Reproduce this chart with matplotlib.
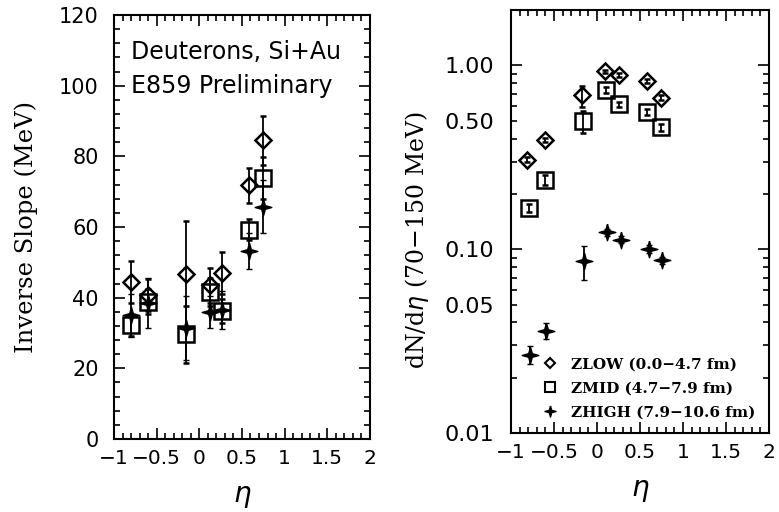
import numpy as np
import matplotlib
matplotlib.use('Agg')
import matplotlib.pyplot as plt
from matplotlib.lines import Line2D
from matplotlib.ticker import MultipleLocator, FixedLocator, FuncFormatter

# Left panel: inverse slope vs eta
eta = [-0.80, -0.60, -0.15, 0.13, 0.27, 0.58, 0.75]
slope_low = [44.5, 40.8, 46.8, 43.5, 47.0, 71.8, 84.5]
slope_low_err = [6.0, 4.5, 15.0, 5.0, 6.0, 5.0, 7.0]
slope_mid = [32.2, 38.9, 29.6, 41.6, 36.2, 59.2, 73.8]
slope_mid_err = [3.0, 3.5, 8.0, 4.0, 3.5, 3.0, 6.0]
slope_high = [35.0, 38.5, 31.5, 36.0, 36.5, 53.2, 65.8]
slope_high_err = [6.0, 7.0, 9.0, 4.5, 5.5, 5.0, 7.5]

# Right panel: dN/deta (70-150 MeV)
eta_low = [-0.81, -0.61, -0.17, 0.09, 0.26, 0.58, 0.74]
eta_mid = [-0.79, -0.61, -0.16, 0.11, 0.26, 0.58, 0.74]
eta_high = [-0.78, -0.59, -0.15, 0.12, 0.28, 0.60, 0.76]
dn_low = [0.307, 0.392, 0.686, 0.93, 0.885, 0.821, 0.667]
dn_low_err = [0.01, 0.01, 0.09, 0.02, 0.02, 0.02, 0.02]
dn_mid = [0.168, 0.239, 0.497, 0.734, 0.613, 0.557, 0.461]
dn_mid_err = [0.008, 0.015, 0.07, 0.03, 0.02, 0.02, 0.02]
dn_high = [0.0266, 0.036, 0.0858, 0.1235, 0.1127, 0.1003, 0.0869]
dn_high_err = [0.003, 0.0037, 0.018, 0.006, 0.005, 0.005, 0.004]

labels = ['ZLOW (0.0\u22124.7 fm)', 'ZMID (4.7\u22127.9 fm)', 'ZHIGH (7.9\u221210.6 fm)']

plt.rcParams['font.family'] = 'DejaVu Sans'
plt.rcParams['axes.linewidth'] = 1.5

# filled four pointed star like the PAW cross
star = [(0, 1), (0.22, 0.22), (1, 0), (0.22, -0.22), (0, -1), (-0.22, -0.22), (-1, 0), (-0.22, 0.22), (0, 1)]

fig = plt.figure(figsize=(7.79, 5.12), dpi=100)
ax1 = fig.add_axes([0.1463, 0.1426, 0.3286, 0.828])
ax2 = fig.add_axes([0.656, 0.1543, 0.3312, 0.826])

eb = dict(color='black', capsize=2, elinewidth=1.3, capthick=1.3, linestyle='none')
st_low = dict(marker='D', ms=8.5, mfc='none', mec='black', mew=1.8)
st_mid = dict(marker='s', ms=11, mfc='none', mec='black', mew=1.8)
st_high = dict(marker=star, ms=12, mfc='black', mec='black', mew=1)

ax1.errorbar(eta, slope_low, yerr=slope_low_err, **st_low, **eb)
ax1.errorbar(eta, slope_mid, yerr=slope_mid_err, **st_mid, **eb)
ax1.errorbar(eta, slope_high, yerr=slope_high_err, **st_high, **eb)

ax2.errorbar(eta_low, dn_low, yerr=dn_low_err, **st_low, **eb)
ax2.errorbar(eta_mid, dn_mid, yerr=dn_mid_err, **st_mid, **eb)
ax2.errorbar(eta_high, dn_high, yerr=dn_high_err, **st_high, **eb)

fmt_x = FuncFormatter(lambda v, p: ('%g' % v).replace('-', '\u2212'))

ax1.set_xlim(-1, 2)
ax1.set_ylim(0, 120)
ax1.xaxis.set_major_locator(MultipleLocator(0.5))
ax1.xaxis.set_minor_locator(MultipleLocator(0.1))
ax1.yaxis.set_major_locator(MultipleLocator(20))
ax1.yaxis.set_minor_locator(MultipleLocator(4))
ax1.xaxis.set_major_formatter(fmt_x)
ax1.set_ylabel('Inverse Slope (MeV)', family='DejaVu Serif', fontsize=17.5)
ax1.yaxis.set_label_coords(-0.295, 0.5)
ax1.set_xlabel(r'$\eta$', fontsize=20, labelpad=10)
ax1.text(-0.80, 109.5, 'Deuterons, Si+Au', fontsize=17, va='center')
ax1.text(-0.80, 100, 'E859 Preliminary', fontsize=17, va='center')

ax2.set_yscale('log')
ax2.set_xlim(-1, 2)
ax2.set_ylim(0.01, 2.0)
ax2.xaxis.set_major_locator(MultipleLocator(0.5))
ax2.xaxis.set_minor_locator(MultipleLocator(0.1))
ax2.xaxis.set_major_formatter(fmt_x)
ax2.yaxis.set_major_locator(FixedLocator([0.01, 0.1, 1.0]))
ax2.yaxis.set_minor_locator(FixedLocator([k * 10.0 ** e for e in (-2, -1, 0) for k in range(2, 10)]))
ax2.yaxis.set_major_formatter(FuncFormatter(lambda v, p: '%.2f' % v))
ax2.yaxis.set_minor_formatter(FuncFormatter(
    lambda v, p: '%.2f' % v if abs(v / 10 ** np.floor(np.log10(v) + 1e-9) - 5) < 1e-6 else ''))
ax2.set_ylabel(r'dN/d$\eta$ (70$-$150 MeV)', family='DejaVu Serif', fontsize=17)
ax2.yaxis.set_label_coords(-0.31, 0.455)
ax2.set_xlabel(r'$\eta$', fontsize=20, labelpad=10)

handles = [Line2D([], [], linestyle='none', **dict(st_low, ms=5.5, mew=1.5)),
           Line2D([], [], linestyle='none', **dict(st_mid, ms=7, mew=1.5)),
           Line2D([], [], linestyle='none', **dict(st_high, ms=8))]
ax2.legend(handles, labels, loc='lower right', frameon=False, handlelength=1.0, handletextpad=0.9,
           labelspacing=0.65, borderaxespad=0.6, borderpad=0.3,
           prop=dict(family='DejaVu Serif', weight='bold', size=11))

for ax in (ax1, ax2):
    ax.tick_params(which='both', direction='in', top=True, right=True, labelsize=15, width=1.2)
    ax.tick_params(which='major', length=8)
    ax.tick_params(which='minor', length=4)
    ax.tick_params(axis='x', which='both', pad=7, labelsize=14.5)
ax1.tick_params(axis='y', which='both', pad=11)
ax2.tick_params(axis='y', which='both', pad=12, labelsize=16)

fig.savefig('out.png', dpi=100)
